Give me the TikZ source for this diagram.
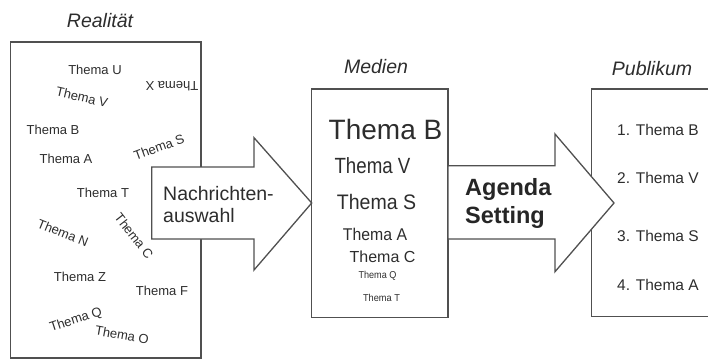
\documentclass[tikz,border=0pt]{standalone}
\usepackage{fontspec}
\setmainfont{Liberation Sans}
\definecolor{linegray}{RGB}{80,80,80}
\definecolor{txt}{RGB}{45,45,45}
\tikzset{
  frame/.style={draw=linegray, line width=1.3pt},
  bigarrow/.style={draw=linegray, line width=1.3pt, fill=white, line join=miter},
  lab/.style={inner sep=0pt, text=txt},
  real/.style={lab, font=\fontsize{13}{15}\selectfont},
  title/.style={lab, anchor=base, font=\fontsize{19.5}{22}\selectfont\itshape},
  pub/.style={lab, anchor=west, font=\fontsize{15.5}{18}\selectfont},
  arrtxt/.style={lab, anchor=base west, font=\fontsize{19.5}{22}\selectfont},
  agtxt/.style={lab, anchor=base west, text=black!85, font=\fontsize{23.5}{26}\selectfont\bfseries},
}
\begin{document}
\begin{tikzpicture}[x=1pt,y=-1pt]
\useasboundingbox (0,0) rectangle (708,360);
% boxes
\draw[frame] (10.7,42) rectangle (201,358);
\draw[frame] (311.7,89) rectangle (448,317.5);
\draw[frame] (712,89) -- (591.7,89) -- (591.7,316.5) -- (712,316.5);
% titles
\node[title] (tReal) at (100,27) {Realität};
\node[title] (tMed) at (376,73) {Medien};
\node[title] (tPub) at (652,75) {Publikum};
% Realitaet topics
\node[real] (rU) at (95,70) {Thema U};
\node[real, rotate=180] (rX) at (172,86) {Thema X};
\node[real, rotate=-13] (rV) at (82,97) {Thema V};
\node[real] (rB) at (53,130) {Thema B};
\node[real, rotate=20] (rS) at (159,147) {Thema S};
\node[real] (rA) at (66,159) {Thema A};
\node[real] (rT) at (103,193) {Thema T};
\node[real, rotate=-22] (rN) at (63,233) {Thema N};
\node[real, rotate=-52] (rC) at (134,236) {Thema C};
\node[real] (rZ) at (80,277) {Thema Z};
\node[real] (rF) at (162,291) {Thema F};
\node[real, rotate=18] (rQ) at (76,320) {Thema Q};
\node[real, rotate=-10] (rO) at (122,335) {Thema O};
% arrow 1
\draw[bigarrow] (151.7,167) -- (254,167) -- (254,137.7) -- (311.7,203) -- (254,270) -- (254,239) -- (151.7,239) -- cycle;
\node[arrtxt] (nach1) at (163,200) {Nachrichten-};
\node[arrtxt] (nach2) at (163,222) {auswahl};
% Medien topics
\node[lab, font=\fontsize{28}{30}\selectfont] (mB) at (385.5,129) {Thema B};
\node[lab, xscale=0.85, font=\fontsize{22}{24}\selectfont] (mV) at (372.5,166) {Thema V};
\node[lab, xscale=0.93, font=\fontsize{21}{23}\selectfont] (mS) at (376.5,202) {Thema S};
\node[lab, xscale=0.93, font=\fontsize{17}{19}\selectfont] (mA) at (375,234) {Thema A};
\node[lab, font=\fontsize{16}{18}\selectfont] (mC) at (382.5,257) {Thema C};
\node[lab, xscale=0.91, font=\fontsize{10}{12}\selectfont] (mQ) at (377.5,276) {Thema Q};
\node[lab, xscale=0.92, font=\fontsize{10}{12}\selectfont] (mT) at (381.5,298) {Thema T};
% arrow 2
\draw[bigarrow] (448,165.7) -- (555,165.7) -- (555,134) -- (614,203) -- (555,271.7) -- (555,239) -- (448,239) -- cycle;
\node[agtxt] (ag1) at (465,195) {Agenda};
\node[agtxt] (ag2) at (465,223) {Setting};
% Publikum
\node[pub] (p1) at (617,130) {1. Thema B};
\node[pub] (p2) at (617,178) {2. Thema V};
\node[pub] (p3) at (617,236) {3. Thema S};
\node[pub] (p4) at (617,285) {4. Thema A};
\end{tikzpicture}
\end{document}
